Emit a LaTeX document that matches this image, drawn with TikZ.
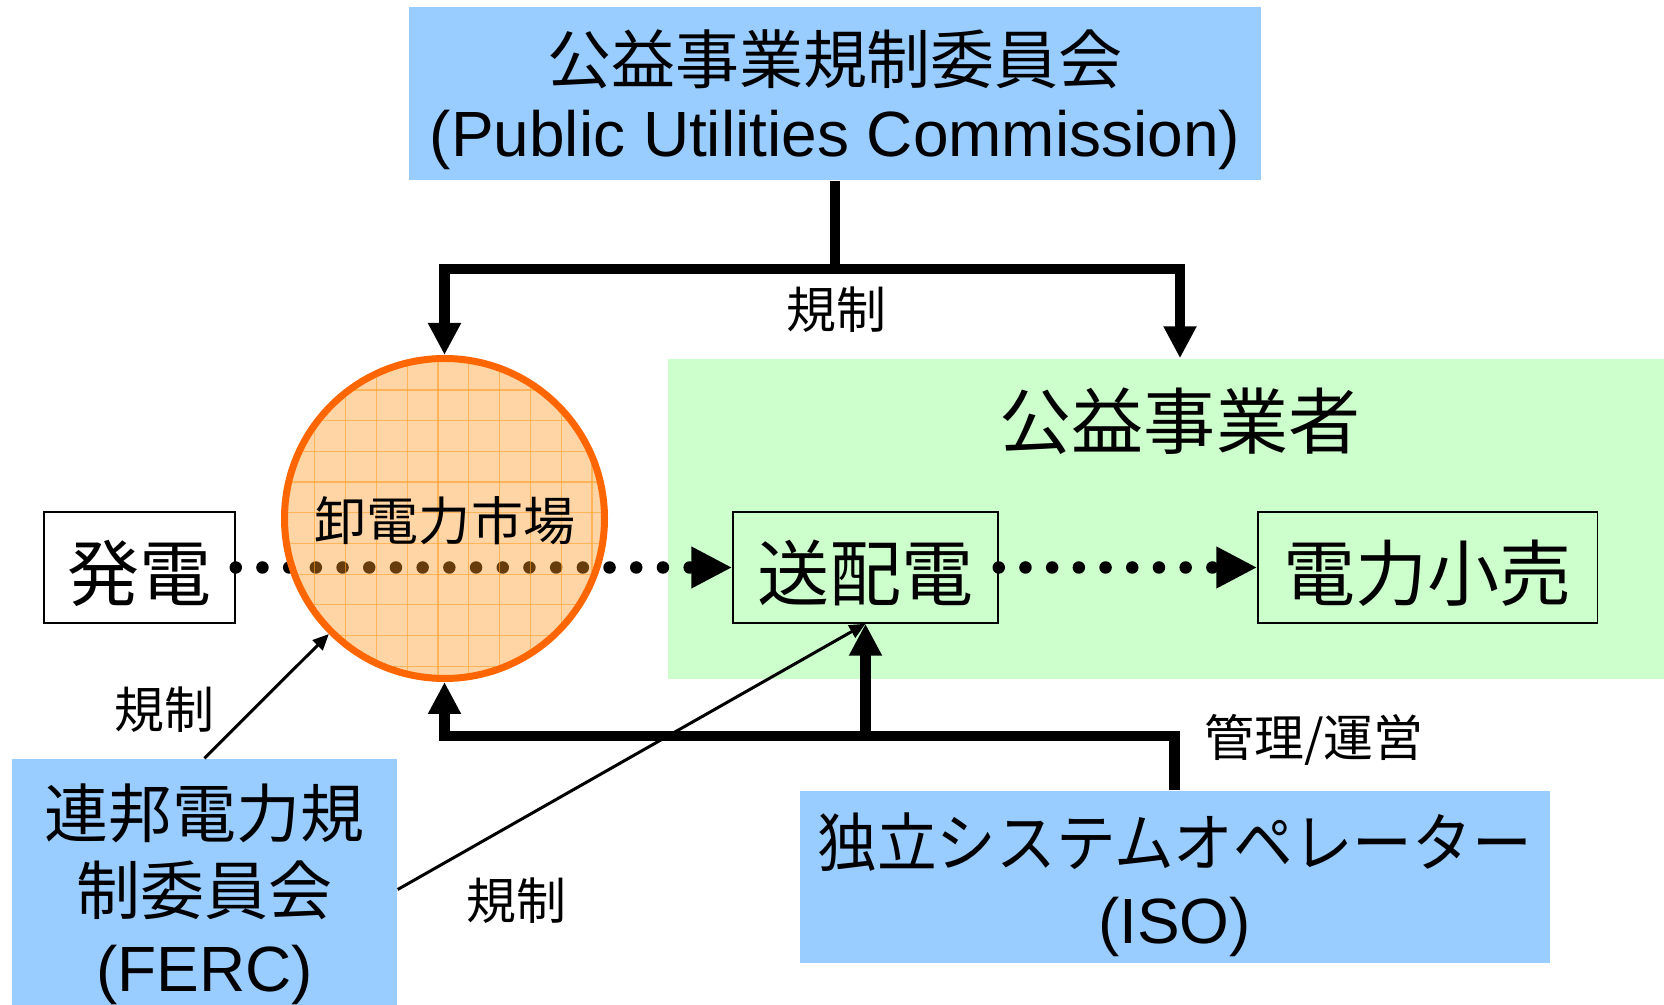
\documentclass[tikz,border=0pt]{standalone}
\usepackage{fontspec}
\setmainfont{Liberation Sans}
\newfontfamily\jp{Noto Sans CJK JP}
\newfontfamily\jpnarrow[FakeStretch=0.933]{Noto Sans CJK JP}
\usepackage{tikz}
\usetikzlibrary{arrows.meta}

\definecolor{boxblue}{RGB}{153,204,255}
\definecolor{utilgreen}{RGB}{204,255,204}
\definecolor{mktline}{RGB}{255,102,0}
\definecolor{mktfill}{RGB}{255,150,30}
\definecolor{mktgrid}{RGB}{255,160,40}

\tikzset{
  bluebox/.style={fill=boxblue, inner sep=0pt},
  boxtext/.style={inner sep=0pt, align=center, font=\fontsize{18.2}{21.9}\selectfont},
  flowbox/.style={draw, line width=0.15mm, inner sep=0pt, text height=19.5pt, text depth=1pt, font=\jp\fontsize{20.5}{24}\selectfont},
  heavy/.style={line width=1.05mm, -{Triangle[length=3.2mm,width=3.1mm]}},
  thinarr/.style={line width=0.3mm, -{Triangle[length=1.6mm,width=1.4mm]}},
  flowdots/.style={line width=1.25mm, line cap=round, dash pattern=on 0pt off 2.67mm, -{Triangle[length=4.1mm,width=3.9mm]}},
  lbl/.style={font=\jp\fontsize{14.2}{17}\selectfont, inner sep=0pt}
}

\begin{document}
\begin{tikzpicture}[x=0.1mm,y=-0.1mm]
\useasboundingbox (0,0) rectangle (1664,1005);
% utility company area
\node[fill=utilgreen, minimum width=99.6mm, minimum height=32mm, inner sep=0pt] at (1166,519) (util) {};
\node[font=\jp\fontsize{20.5}{24}\selectfont] at (1180,421) (utilname) {公益事業者};
% regulators and operator
\node[bluebox, minimum width=85.2mm, minimum height=17.3mm] at (835,93.5) (puc) {};
\node[boxtext, font=\fontsize{18.2}{20.8}\selectfont] at (835,99.5) (pucname) {{\jp 公益事業規制委員会}\\(Public Utilities Commission)};
\node[bluebox, minimum width=38.5mm, minimum height=26.1mm] at (204.5,889.5) (ferc) {};
\node[boxtext] at (204.5,894) (fercname) {{\jp 連邦電力規}\\{\jp 制委員会}\\(FERC)};
\node[bluebox, minimum width=75mm, minimum height=17.2mm] at (1174.6,877) (iso) {};
\node[boxtext] at (1174.6,885) (isoname) {{\jpnarrow 独立システムオペレーター}\\(ISO)};
% flow boxes
\node[flowbox, fill=white, minimum width=19.1mm, minimum height=11.1mm] at (139.5,567.5) (gen) {発電};
\node[flowbox, minimum width=26.5mm, minimum height=11.1mm] at (865.5,567.5) (tdist) {送配電};
\node[flowbox, minimum width=33.96mm, minimum height=11.1mm] at (1427.8,567.5) (retail) {電力小売};
\draw[flowdots] (gen.east) -- (tdist.west);
% wholesale market
\node[circle, minimum size=32.7mm, inner sep=0pt, outer sep=0pt] at (444.5,518.5) (mkt) {};
\fill[mktfill, fill opacity=0.4] (mkt.center) circle (16mm);
\begin{scope}
\clip (mkt.center) circle (16mm);
\foreach \k in {-1,...,9} {
  \draw[mktgrid, line width=0.12mm, opacity=0.6] ({314.7+30.8*\k},350) -- ({314.7+30.8*\k},690);
  \draw[mktgrid, line width=0.12mm, opacity=0.6] (280,{390+30.7*\k}) -- (610,{390+30.7*\k});
}
\end{scope}
\draw[mktline, line width=0.7mm] (mkt.center) circle (16mm);
\node[font=\jp\fontsize{14.8}{18}\selectfont] at (445,521) (mktname) {卸電力市場};
\draw[flowdots] (tdist.east) -- (retail.west);
% regulation / operation
\coordinate (pucsplit) at (835,269);
\draw[heavy] (puc.south) -- (pucsplit) -| (mkt.north);
\draw[heavy] (pucsplit) -| (utilname |- util.north);
\coordinate (isobend) at (1174.6,736);
\draw[heavy] (iso.north) -- (isobend) -| (mkt.south);
\draw[heavy] (tdist.south |- isobend) -- (tdist.south);
\draw[thinarr] (ferc.north) -- (mkt);
\draw[thinarr] (ferc.east) -- (tdist.south);
% labels
\node[lbl] at (836,310) (pucreg) {規制};
\node[lbl] at (164.5,710) (fercreg) {規制};
\node[lbl] at (516.5,901) (fercreg2) {規制};
\node[lbl] at (1314,740) (isoop) {管理/運営};
\end{tikzpicture}
\end{document}
